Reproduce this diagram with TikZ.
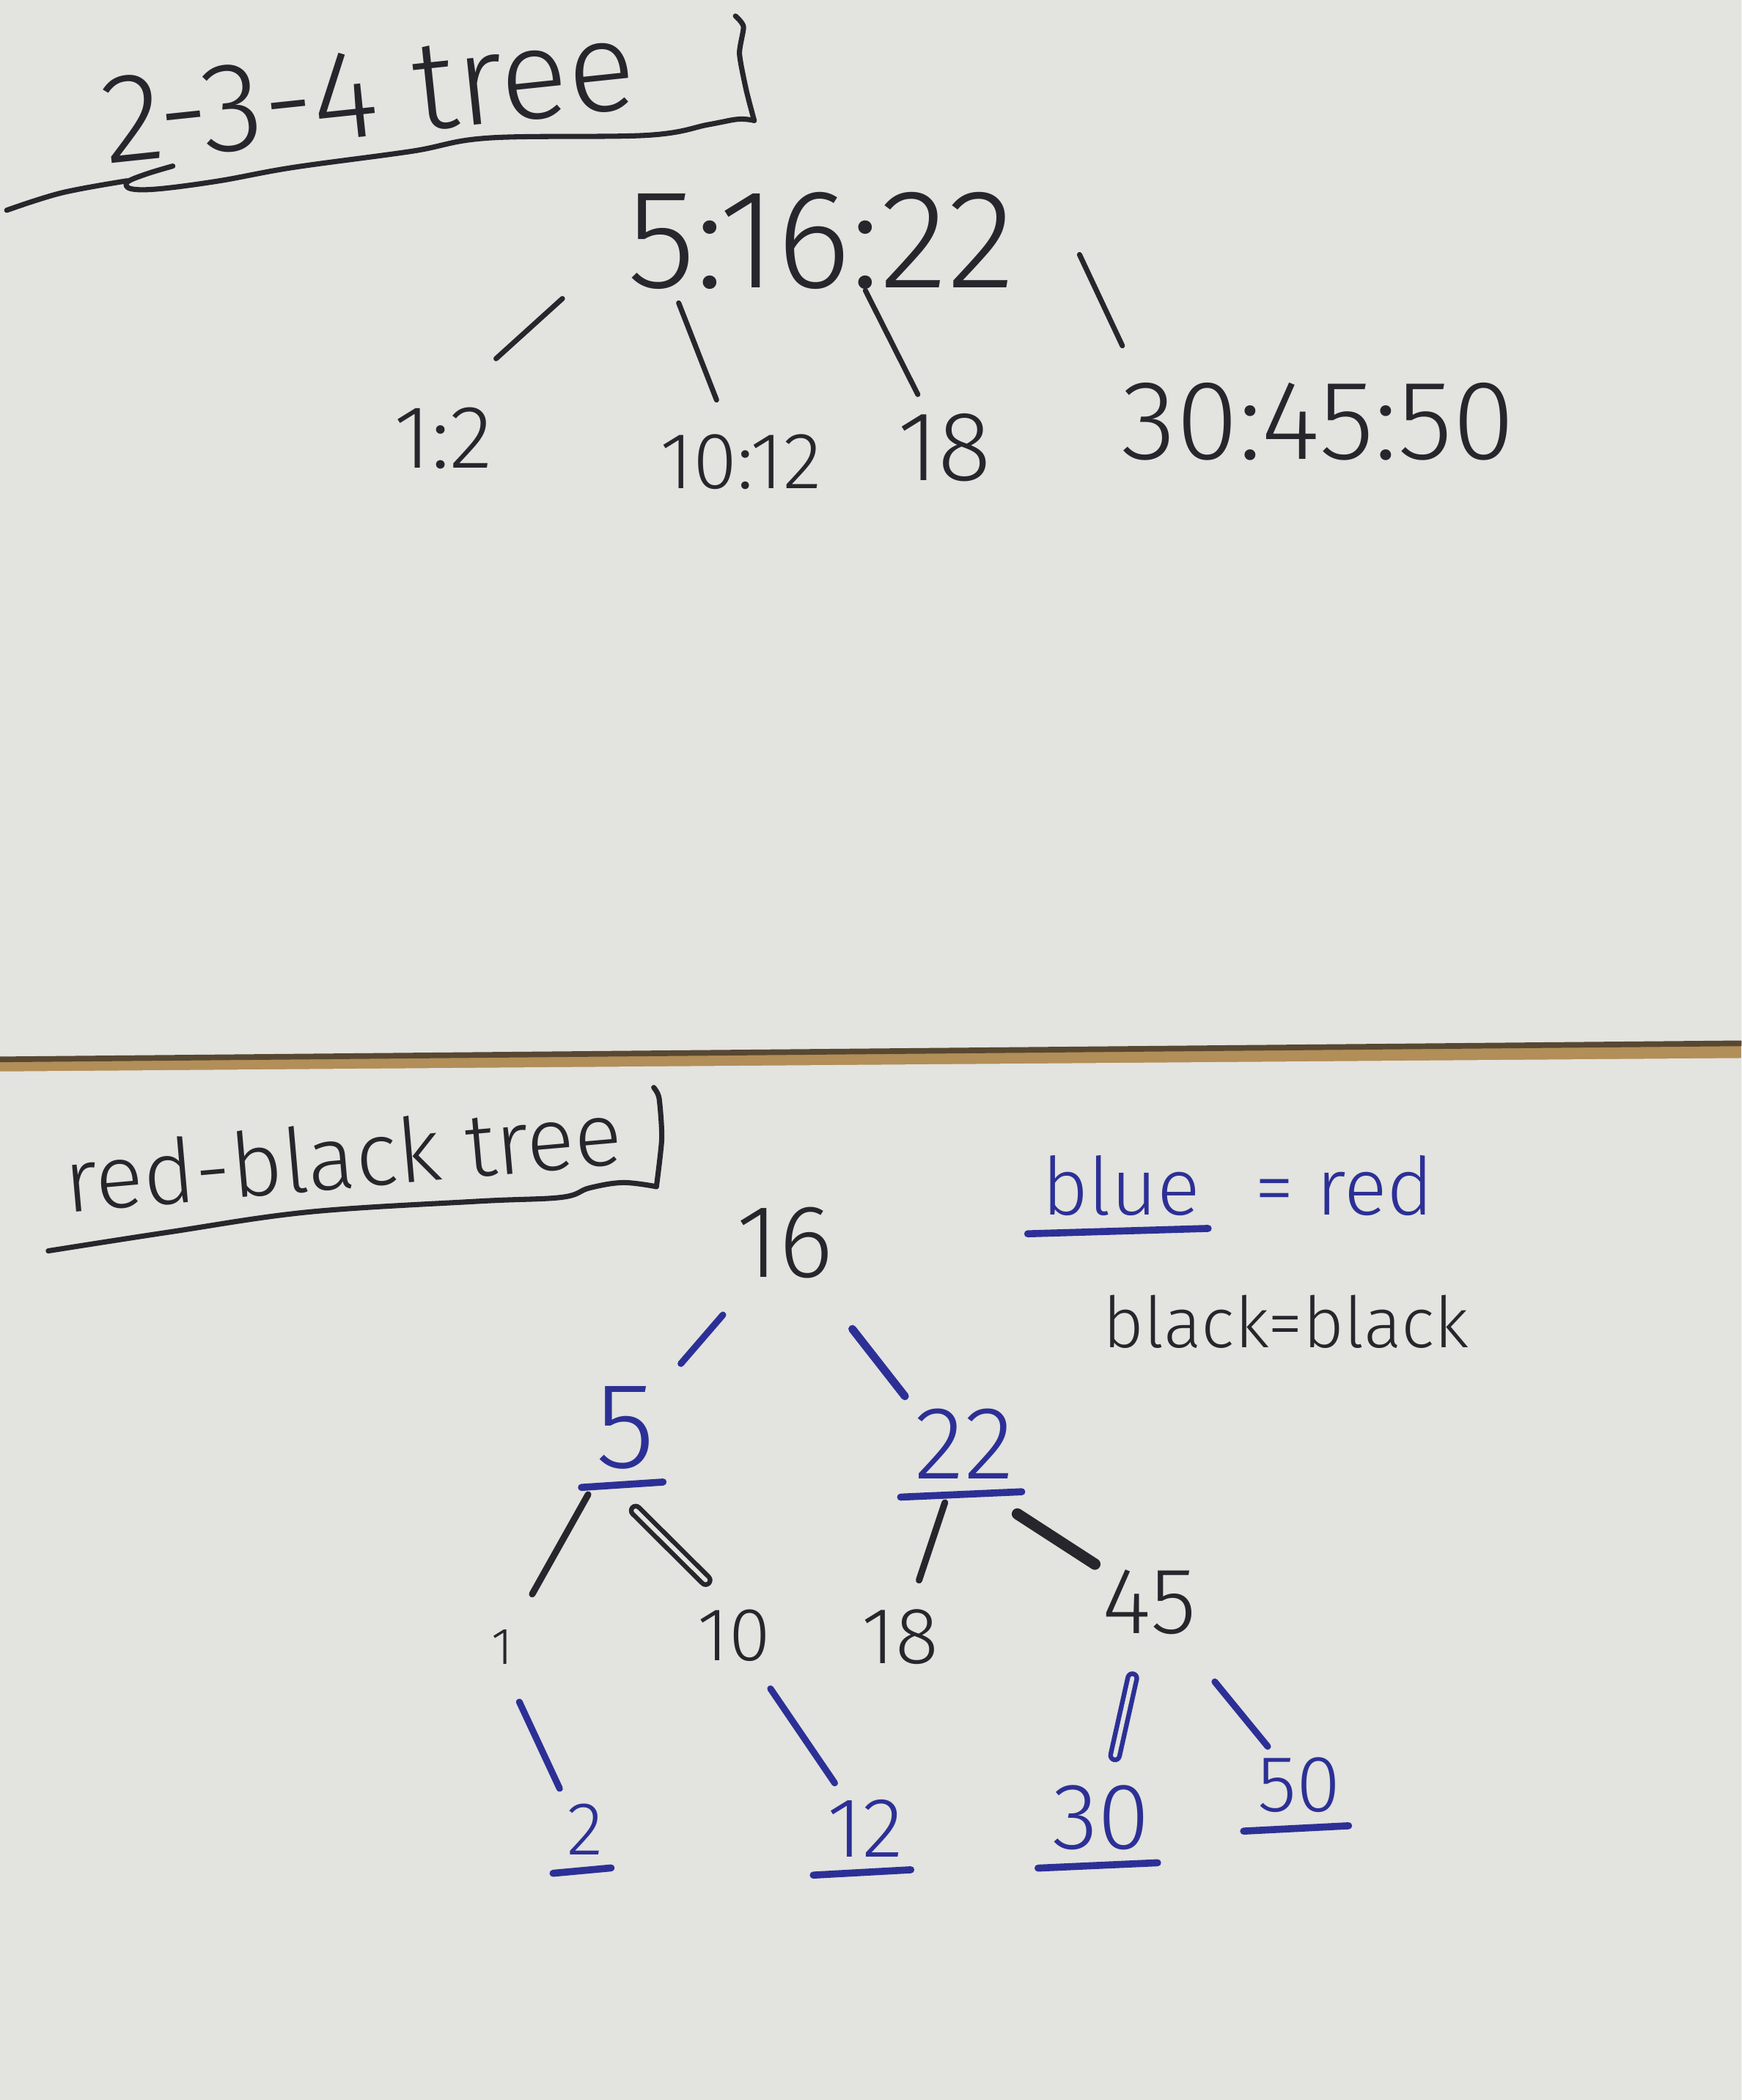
\documentclass[tikz,border=0pt]{standalone}
\usepackage{fontspec}
\setmainfont{Fira Sans Light}
\usetikzlibrary{positioning}

\definecolor{inkblack}{RGB}{38,38,44}
\definecolor{inkblue}{RGB}{44,48,150}
\definecolor{card}{RGB}{227,227,223}
\definecolor{cork}{RGB}{178,142,88}
\definecolor{cardedge}{RGB}{88,72,50}

\tikzset{
  num/.style={inner sep=0pt, text=inkblack, font=\fontsize{#1}{#1}\selectfont},
  uline/.style={draw=inkblue, line width=1.5pt, line cap=round},
  rednode/.style={num=#1, text=inkblue,
    append after command={([xshift=-1mm,yshift=-1.3mm]\tikzlastnode.south west)
      edge[uline] ([xshift=0.5mm,yshift=-0.9mm]\tikzlastnode.south east)}},
  pen/.style={draw=inkblack, line width=1.1pt, line cap=round, line join=round},
  blackedge/.style={draw=inkblack, line width=1.4pt, line cap=round},
  rededge/.style={draw=inkblue, line width=1.4pt, line cap=round},
  scribble/.style={double=card, double distance=0.9pt, line width=1pt}
}

\begin{document}
\begin{tikzpicture}
  \useasboundingbox (0,0) rectangle (13,-15.68);
  % the two cards on the board
  \fill[cork] (0,0) rectangle (13,-15.68);
  \fill[card] (0,0) -- (13,0) -- (13,-7.79) -- (0,-7.91) -- cycle;
  \draw[cardedge, line width=1.2pt] (0,-7.91) -- (13,-7.79);
  \fill[card] (0,-8.00) -- (13,-7.90) -- (13,-15.68) -- (0,-15.68) -- cycle;

  \node[num=27, rotate=6] (title234) at (2.75,-0.70) {2-3-4 tree};
  \draw[pen] plot[smooth, tension=0.6] coordinates {(0.05,-1.57) (0.46,-1.44) (0.95,-1.35)};
  \draw[pen] plot[smooth, tension=0.6] coordinates {(1.29,-1.24) (1.09,-1.30) (0.95,-1.36)
    (0.98,-1.41) (1.19,-1.41) (1.64,-1.35) (2.19,-1.25) (3.07,-1.13) (3.65,-1.03)
    (4.83,-1.01) (5.29,-0.93) (5.51,-0.89) (5.63,-0.90)};
  \draw[pen] plot[smooth, tension=0.4] coordinates {(5.63,-0.90) (5.57,-0.67) (5.52,-0.40)
    (5.55,-0.20) (5.49,-0.12)};

  \node[num=30] (root) at (6.13,-1.80) {5:16:22};
  \node[num=19] (lo) at (3.31,-3.27) {1:2};
  \node[num=17] (midlo) at (5.53,-3.45) {10:12};
  \node[num=21] (midhi) at (7.05,-3.34) {18};
  \node[num=24] (hi) at (9.84,-3.15) {30:45:50};
  \draw[pen, shorten <=0.64cm, shorten >=0.53cm] (root.west) -- (lo.north);
  \draw[pen, shorten <=0.10cm, shorten >=0.27cm] ([xshift=-11mm]root.south) -- (midlo);
  \draw[pen, shorten >=0.15cm] ([xshift=3.3mm]root.south) -- (midhi);
  \draw[pen, shorten <=0.52cm, shorten >=0.30cm] ([xshift=2.5mm]root.north east) -- ([xshift=1.4mm]hi.north west);

  \node[num=19, rotate=5] (titlerb) at (2.56,-8.63) {red-black tree};
  \draw[pen] plot[smooth, tension=0.6] coordinates {(0.36,-9.34) (1.26,-9.20) (2.30,-9.05)
    (3.56,-8.97) (4.19,-8.94) (4.40,-8.87) (4.65,-8.83) (4.90,-8.86)};
  \draw[pen] plot[smooth, tension=0.4] coordinates {(4.90,-8.86) (4.94,-8.50) (4.92,-8.20)
    (4.88,-8.12)};

  \node[rednode=17] (legblue) at (8.37,-8.85) {blue};
  \node[num=17, text=inkblue, right=0.39cm of legblue] (legred) {= red};
  \node[num=15] (legblack) at (9.60,-9.87) {black=black};

  \node[num=22] (n16) at (5.86,-9.28) {16};
  \node[rednode=26] (n5) at (4.67,-10.66) {5};
  \node[rednode=22] (n22) at (7.20,-10.78) {22};
  \node[num=11] (n1) at (3.75,-12.30) {1};
  \node[num=16] (n10) at (5.48,-12.21) {10};
  \node[num=17] (n18) at (6.72,-12.22) {18};
  \node[num=20] (n45) at (8.58,-11.96) {45};
  \node[rednode=16] (n2) at (4.37,-13.66) {2};
  \node[rednode=18] (n12) at (6.46,-13.65) {12};
  \node[rednode=20] (n30) at (8.22,-13.57) {30};
  \node[rednode=17] (n50) at (9.70,-13.33) {50};

  \draw[rededge, shorten <=0.35cm, shorten >=0.28cm] (n16) -- (n5);
  \draw[rededge, line width=1.7pt, shorten <=0.47cm, shorten >=0.11cm] (n16) -- (n22.north west);
  \draw[blackedge, shorten <=0.21cm, shorten >=0.30cm] (n5) -- (n1);
  \draw[blackedge, scribble, shorten <=0.43cm, shorten >=0.30cm] (n5.south west) -- (n10.north);
  \draw[blackedge, shorten <=0.18cm, shorten >=0.22cm] (n22) -- (n18);
  \draw[blackedge, line width=2.4pt, shorten <=0.47cm, shorten >=0.06cm] (n22.south) -- (n45.north west);
  \draw[rededge, shorten <=0.30cm, shorten >=0.12cm] (n1.south) -- (n2.north west);
  \draw[rededge, shorten <=0.24cm, shorten >=0.14cm] (n10) -- (n12);
  \draw[rededge, scribble, shorten <=0.33cm, shorten >=0.22cm] (n45) -- (n30);
  \draw[rededge, shorten <=0.45cm, shorten >=0.10cm] (n45) -- (n50);
\end{tikzpicture}
\end{document}
